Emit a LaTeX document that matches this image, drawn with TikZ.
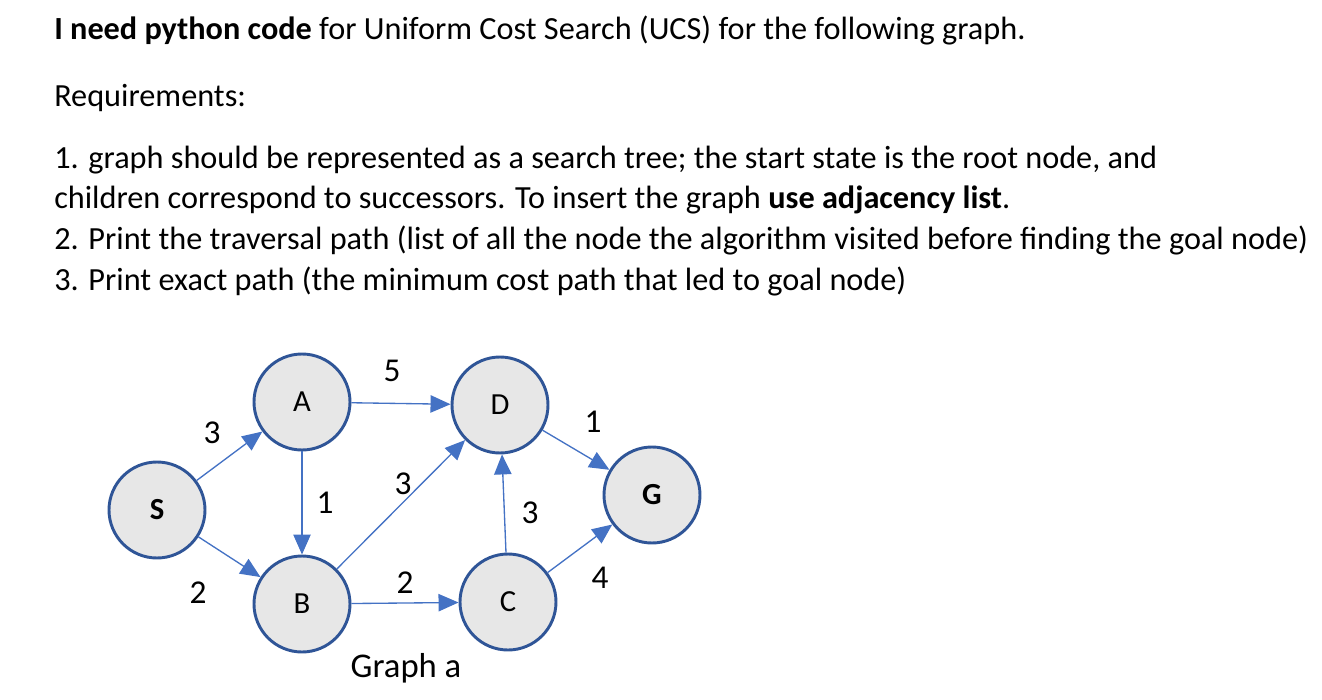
\documentclass[tikz,border=0pt]{standalone}
\usepackage{fontspec}
\setmainfont{Carlito}
\usetikzlibrary{arrows.meta}
\definecolor{nodefill}{HTML}{E7E7E7}
\definecolor{nodeline}{HTML}{2F5597}
\definecolor{edgecol}{HTML}{4472C4}
\begin{document}
\begin{tikzpicture}[x=0.75pt,y=-0.75pt,
  txt/.style={anchor=west,inner sep=0pt,font=\fontsize{24.2}{28}\selectfont},
  gnode/.style={circle,draw=nodeline,fill=nodefill,line width=2.2pt,minimum size=72pt,inner sep=0pt,font=\fontsize{23}{26}\selectfont},
  edge/.style={draw=edgecol,line width=1pt,-{Triangle[length=15pt,width=13pt]}},
  lbl/.style={font=\fontsize{25}{28}\selectfont,inner sep=0pt}]
\useasboundingbox (0,0) rectangle (1322,700);
\node[txt] (t1) at (54,30) {\textbf{I need python code} for Uniform Cost Search (UCS) for the following graph.};
\node[txt] (t2) at (54,98) {Requirements:};
\node[txt] (t3) at (54,160) {1. graph should be represented as a search tree; the start state is the root node, and};
\node[txt] (t4) at (54,200) {children correspond to successors. To insert the graph \textbf{use adjacency list}.};
\node[txt] (t5) at (54,240) {2. Print the traversal path (list of all the node the algorithm visited before finding the goal node)};
\node[txt] (t6) at (54,281) {3. Print exact path (the minimum cost path that led to goal node)};
\node[gnode] (S) at (157,510) {\textbf{S}};
\node[gnode] (A) at (302,402) {A};
\node[gnode] (D) at (500,405) {D};
\node[gnode] (B) at (302,604) {B};
\node[gnode] (C) at (508,602) {C};
\node[gnode] (G) at (652,495) {\textbf{G}};
\draw[edge] (S) -- (A);
\draw[edge] (S) -- (B);
\draw[edge] (A) -- (D);
\draw[edge] (A) -- (B);
\draw[edge] (B) -- (D);
\draw[edge] (B) -- (C);
\draw[edge] (C) -- (D);
\draw[edge] (D) -- (G);
\draw[edge] (C) -- (G);
\node[lbl] (l1) at (212,433) {3};
\node[lbl] (l2) at (198,593) {2};
\node[lbl] (l3) at (392,371) {5};
\node[lbl] (l4) at (325,503) {1};
\node[lbl] (l5) at (403,484) {3};
\node[lbl] (l6) at (405,583) {2};
\node[lbl] (l7) at (530,513) {3};
\node[lbl] (l8) at (593,422) {1};
\node[lbl] (l9) at (600,578) {4};
\node[lbl,font=\fontsize{26}{30}\selectfont] (ga) at (406,668) {Graph a};
\end{tikzpicture}
\end{document}
